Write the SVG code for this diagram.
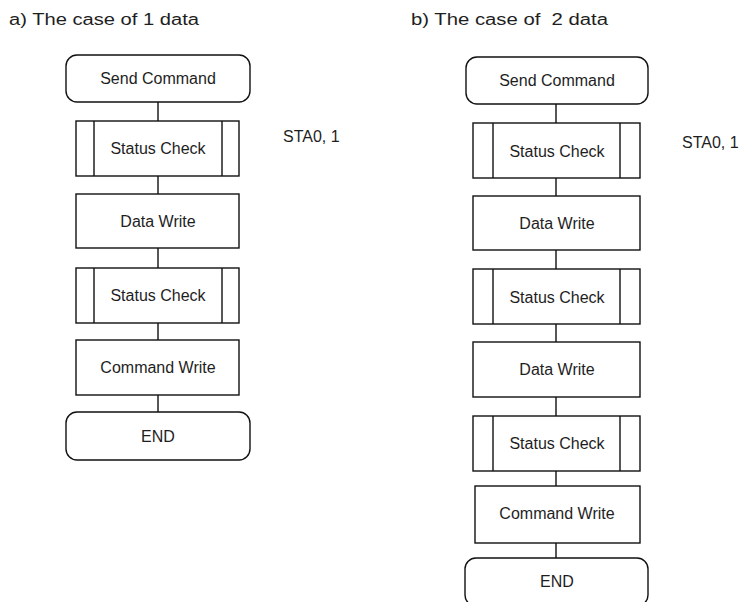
<svg xmlns="http://www.w3.org/2000/svg" width="741" height="602" viewBox="0 0 741 602">
<style>
.t{font-family:"Liberation Sans",Arial,sans-serif;font-size:16px;fill:#1e1e1e}
.c{text-anchor:middle}
.box{fill:#fff;stroke:#111;stroke-width:1.4}
.ln{stroke:#111;stroke-width:1.4;fill:none}
</style>
<rect width="741" height="602" fill="#fff"/>
<text class="t" x="9" y="25" textLength="190" lengthAdjust="spacingAndGlyphs">a) The case of 1 data</text>
<text class="t" x="411" y="25" textLength="197" lengthAdjust="spacingAndGlyphs" xml:space="preserve">b) The case of  2 data</text>
<text class="t" x="283" y="142">STA0, 1</text>
<text class="t" x="682" y="148">STA0, 1</text>
<g id="connectors">
<path class="ln" d="M158 102V121M158 176V194M158 248V268M158 323V340M158 395V412"/>
<path class="ln" d="M556 104V123M556 178V196M556 250V269M556 324V342M556 397V416M556 471V486M556 543V558"/>
</g>
<g id="a-start"><rect class="box" x="66" y="55" width="184" height="47" rx="11"/><text class="t c" x="158" y="84">Send Command</text></g>
<g id="a-status1"><rect class="box" x="76" y="121" width="163" height="55"/><path class="ln" d="M94 121V176M222 121V176"/><text class="t c" x="158" y="154">Status Check</text></g>
<g id="a-data"><rect class="box" x="76" y="194" width="163" height="54"/><text class="t c" x="158" y="227">Data Write</text></g>
<g id="a-status2"><rect class="box" x="76" y="268" width="163" height="55"/><path class="ln" d="M94 268V323M222 268V323"/><text class="t c" x="158" y="301">Status Check</text></g>
<g id="a-cmd"><rect class="box" x="76" y="340" width="163" height="55"/><text class="t c" x="158" y="373">Command Write</text></g>
<g id="a-end"><rect class="box" x="66" y="412" width="184" height="48" rx="11"/><text class="t c" x="158" y="442">END</text></g>
<g id="b-start"><rect class="box" x="466" y="57" width="182" height="47" rx="11"/><text class="t c" x="557" y="86">Send Command</text></g>
<g id="b-status1"><rect class="box" x="473" y="123" width="167" height="55"/><path class="ln" d="M493 123V178M620 123V178"/><text class="t c" x="557" y="157">Status Check</text></g>
<g id="b-data1"><rect class="box" x="473" y="196" width="167" height="54"/><text class="t c" x="557" y="229">Data Write</text></g>
<g id="b-status2"><rect class="box" x="473" y="269" width="167" height="55"/><path class="ln" d="M493 269V324M620 269V324"/><text class="t c" x="557" y="303">Status Check</text></g>
<g id="b-data2"><rect class="box" x="473" y="342" width="167" height="55"/><text class="t c" x="557" y="375">Data Write</text></g>
<g id="b-status3"><rect class="box" x="473" y="416" width="167" height="55"/><path class="ln" d="M493 416V471M620 416V471"/><text class="t c" x="557" y="449">Status Check</text></g>
<g id="b-cmd"><rect class="box" x="475" y="486" width="165" height="57"/><text class="t c" x="557" y="519">Command Write</text></g>
<g id="b-end"><rect class="box" x="465" y="558" width="183" height="48" rx="11"/><text class="t c" x="557" y="587">END</text></g>
</svg>
